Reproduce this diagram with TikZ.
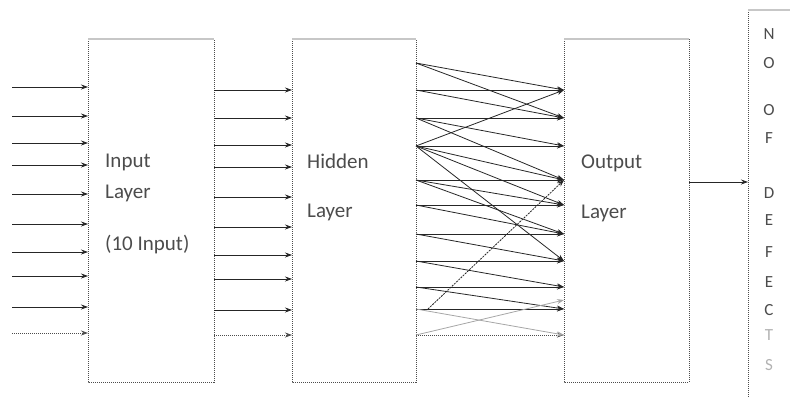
\documentclass[tikz,border=0pt]{standalone}
\usepackage{fontspec}
\setmainfont{Carlito}
\usetikzlibrary{arrows.meta}
\begin{document}
\begin{tikzpicture}[x=1pt,y=-1pt,
  layerbox/.style={draw=none,inner sep=0pt,outer sep=0pt,anchor=north west},
  sideline/.style={line width=1pt,black!70,dash pattern=on 1pt off 1pt},
  topline/.style={line width=2pt,black!22},
  arr/.style={line width=0.8pt,black!85,-{Stealth[length=7pt,width=5pt]}},
  dotarr/.style={line width=0.9pt,black!70,dash pattern=on 1pt off 1pt,-{Stealth[length=7pt,width=5pt]}},
  lightarr/.style={line width=0.8pt,black!35,-{Stealth[length=7pt,width=5pt]}},
  lbl/.style={font=\fontsize{21}{25}\selectfont,text=black!70,anchor=base west,inner sep=0pt},
  letter/.style={font=\fontsize{17}{20}\selectfont,text=black!70,anchor=base,inner sep=0pt}]
\useasboundingbox (0,0) rectangle (790,397);

% layer boxes
\node[layerbox,minimum width=126pt,minimum height=343pt] (inp) at (88,39) {};
\node[layerbox,minimum width=124pt,minimum height=343pt] (hid) at (292,39) {};
\node[layerbox,minimum width=125pt,minimum height=343pt] (out) at (564,39) {};
\node[layerbox,minimum width=80pt,minimum height=400pt] (res) at (748,10) {};

\foreach \b in {inp,hid,out}{
  \draw[sideline] (\b.north west) -- (\b.south west) -- (\b.south east) -- (\b.north east);
  \draw[topline] (\b.north west) -- (\b.north east);
}
\draw[sideline] (res.north west) -- (res.south west);
\draw[topline] (res.north west) -- (res.north east);

% labels
\node[lbl] (t1) at (105,167) {Input};
\node[lbl] (t2) at (105,198) {Layer};
\node[lbl] (t3) at (105,250) {(10 Input)};
\node[lbl] (t4) at (307,168) {Hidden};
\node[lbl] (t5) at (307,217) {Layer};
\node[lbl] (t6) at (581,168) {Output};
\node[lbl] (t7) at (581,218) {Layer};

% NO OF DEFECTS
\node[letter] (l1) at (769,39) {N};
\node[letter] (l2) at (769,68) {O};
\node[letter] (l3) at (769,115) {O};
\node[letter] (l4) at (769,143) {F};
\node[letter] (l5) at (769,198) {D};
\node[letter] (l6) at (769,225) {E};
\node[letter] (l7) at (769,257) {F};
\node[letter] (l8) at (769,287) {E};
\node[letter] (l9) at (769,315) {C};
\node[letter,text=black!30] (l10) at (769,340) {T};
\node[letter,text=black!30] (l11) at (769,370) {S};

% input arrows
\foreach \y in {87,116,143,165,194,224,252,276,307}{
  \coordinate (src\y) at (12,\y);
  \draw[arr] (src\y) -- (src\y -| inp.west);
}
\coordinate (src333) at (12,333);
\draw[dotarr] (src333) -- (src333 -| inp.west);

% input -> hidden
\foreach \y in {90,118,145,167,197,227,255,279,310}{
  \draw[arr] (inp.east |- 0,\y) -- (hid.west |- 0,\y);
}
\draw[dotarr] (inp.east |- 0,335) -- (hid.west |- 0,335);

% hidden -> output horizontals
\foreach \y in {90,118,146,180,205,234,261,287,309}{
  \draw[arr] (hid.east |- 0,\y) -- (out.west |- 0,\y);
}
\draw[dotarr] (hid.east |- 0,335) -- (out.west |- 0,335);

% hidden -> output diagonals
\foreach \a/\b in {63/90,63/118,90/118,118/146,118/180,146/90,146/180,146/205,146/261,
                   180/205,180/234,205/234,234/261,261/287,287/309}{
  \draw[arr] (hid.east |- 0,\a) -- (out.west |- 0,\b);
}
\draw[lightarr] (hid.east |- 0,309) -- (out.west |- 0,335);
\draw[lightarr] (hid.east |- 0,335) -- (out.west |- 0,300);
\coordinate (lr) at (428,309);
\draw[arr,dash pattern=on 2pt off 1pt] (lr) -- (out.west |- 0,180);

% output -> result
\draw[arr] (out.east |- 0,182) -- (res.west |- 0,182);
\end{tikzpicture}
\end{document}
